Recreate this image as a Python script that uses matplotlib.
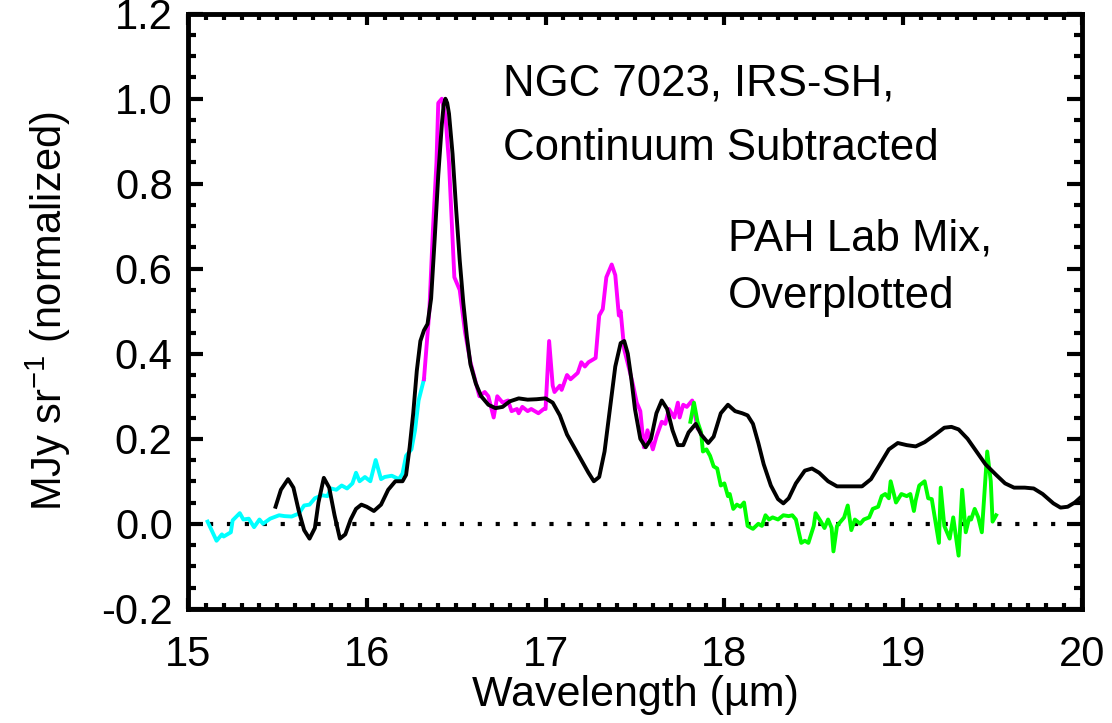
import numpy as np
import matplotlib
matplotlib.use("Agg")
from matplotlib import pyplot as plt
from matplotlib.ticker import MultipleLocator, FormatStrFormatter

plt.rcParams['font.family'] = ['Liberation Sans', 'DejaVu Sans']
plt.rcParams['mathtext.default'] = 'regular'

# cyan segment (short wavelength module piece)
cyan_x = [15.11, 15.16, 15.19, 15.20, 15.24, 15.25, 15.29, 15.31, 15.34, 15.37,
          15.40, 15.42, 15.46, 15.51, 15.54, 15.58, 15.62, 15.65, 15.68, 15.71,
          15.75, 15.78, 15.80, 15.83, 15.86, 15.89, 15.92, 15.94, 15.96, 15.99,
          16.02, 16.05, 16.08, 16.10, 16.14, 16.18, 16.20, 16.22, 16.25, 16.27,
          16.29, 16.32]
cyan_y = [0.005, -0.04, -0.025, -0.03, -0.02, 0.008, 0.025, 0.01, 0.012, -0.008,
          0.01, 0.0, 0.012, 0.02, 0.018, 0.017, 0.024, 0.043, 0.045, 0.06,
          0.067, 0.065, 0.083, 0.08, 0.09, 0.083, 0.095, 0.12, 0.10, 0.11,
          0.10, 0.15, 0.105, 0.11, 0.113, 0.105, 0.118, 0.16, 0.175, 0.22,
          0.29, 0.34]

# magenta segment
mag_x = [16.32, 16.35, 16.37, 16.39, 16.40, 16.42, 16.44, 16.46, 16.49, 16.51,
         16.52, 16.55, 16.58, 16.63, 16.66, 16.68, 16.71, 16.73, 16.76, 16.79,
         16.81, 16.84, 16.85, 16.87, 16.90, 16.92, 16.96, 16.99, 17.00, 17.02,
         17.04, 17.05, 17.08, 17.09, 17.12, 17.14, 17.18, 17.20, 17.22, 17.24,
         17.28, 17.30, 17.32, 17.34, 17.37, 17.39, 17.41, 17.42, 17.44, 17.47,
         17.49, 17.51, 17.53, 17.55, 17.57, 17.60, 17.62, 17.65, 17.67, 17.69,
         17.72, 17.74, 17.75, 17.77, 17.79, 17.82, 17.85]
mag_y = [0.34, 0.50, 0.69, 0.85, 0.99, 1.0, 0.96, 0.85, 0.58, 0.56,
         0.55, 0.45, 0.38, 0.30, 0.31, 0.30, 0.25, 0.30, 0.285, 0.29,
         0.265, 0.27, 0.26, 0.275, 0.265, 0.27, 0.26, 0.27, 0.27, 0.43,
         0.325, 0.31, 0.325, 0.315, 0.35, 0.34, 0.355, 0.38, 0.37, 0.38,
         0.39, 0.49, 0.505, 0.58, 0.61, 0.585, 0.49, 0.50, 0.41, 0.36,
         0.325, 0.285, 0.265, 0.18, 0.22, 0.175, 0.205, 0.24, 0.235, 0.27,
         0.25, 0.285, 0.25, 0.28, 0.275, 0.29, 0.225]

# green segment
grn_x = [17.81, 17.83, 17.85, 17.87, 17.88, 17.90, 17.92, 17.94, 17.96, 17.98,
         18.00, 18.02, 18.03, 18.05, 18.07, 18.09, 18.11, 18.13, 18.16, 18.19,
         18.21, 18.23, 18.25, 18.27, 18.30, 18.33, 18.36, 18.38, 18.40, 18.43,
         18.45, 18.47, 18.50, 18.51, 18.54, 18.56, 18.58, 18.60, 18.61, 18.63,
         18.65, 18.67, 18.69, 18.71, 18.73, 18.76, 18.78, 18.81, 18.83, 18.86,
         18.88, 18.90, 18.92, 18.93, 18.96, 18.99, 19.02, 19.04, 19.06, 19.07,
         19.09, 19.12, 19.14, 19.16, 19.20, 19.21, 19.23, 19.26, 19.28, 19.31,
         19.33, 19.35, 19.37, 19.38, 19.40, 19.42, 19.44, 19.47, 19.49, 19.50,
         19.52]
grn_y = [0.24, 0.285, 0.24, 0.215, 0.17, 0.175, 0.16, 0.135, 0.13, 0.09,
         0.095, 0.065, 0.07, 0.035, 0.045, 0.04, 0.05, -0.005, -0.012, 0.0,
         -0.005, 0.02, 0.01, 0.015, 0.01, 0.02, 0.018, 0.02, 0.01, -0.045,
         -0.04, -0.045, -0.005, 0.025, 0.005, -0.01, 0.01, -0.01, -0.065, -0.005,
         0.005, 0.015, 0.043, -0.015, 0.01, 0.0, 0.01, 0.015, 0.035, 0.04,
         0.065, 0.07, 0.06, 0.10, 0.05, 0.07, 0.065, 0.07, 0.03, 0.055,
         0.09, 0.10, 0.06, 0.058, -0.045, 0.085, -0.005, -0.035, 0.015, -0.075,
         0.08, -0.02, 0.015, 0.01, 0.035, 0.015, -0.02, 0.17, 0.10, 0.005,
         0.02]

# PAH lab mix (black)
lab_x = [15.49, 15.52, 15.56, 15.59, 15.62, 15.65, 15.68, 15.71, 15.73, 15.76,
         15.79, 15.82, 15.85, 15.88, 15.91, 15.94, 15.97, 16.00, 16.04, 16.08,
         16.12, 16.16, 16.20, 16.22, 16.24, 16.26, 16.28, 16.30, 16.32, 16.34,
         16.36, 16.38, 16.40, 16.42, 16.43, 16.44, 16.45, 16.46, 16.48, 16.50,
         16.52, 16.54, 16.56, 16.58, 16.61, 16.64, 16.68, 16.72, 16.76, 16.80,
         16.85, 16.90, 16.95, 17.00, 17.04, 17.08, 17.12, 17.16, 17.20, 17.24,
         17.27, 17.30, 17.33, 17.36, 17.39, 17.42, 17.44, 17.46, 17.48, 17.50,
         17.53, 17.56, 17.59, 17.62, 17.65, 17.68, 17.71, 17.74, 17.77, 17.80,
         17.84, 17.87, 17.91, 17.94, 17.98, 18.02, 18.06, 18.10, 18.13, 18.16,
         18.19, 18.22, 18.26, 18.30, 18.33, 18.36, 18.40, 18.45, 18.49, 18.53,
         18.58, 18.63, 18.70, 18.77, 18.82, 18.87, 18.92, 18.97, 19.02, 19.07,
         19.12, 19.18, 19.23, 19.27, 19.31, 19.36, 19.41, 19.46, 19.52, 19.57,
         19.62, 19.68, 19.73, 19.78, 19.84, 19.88, 19.92, 19.96, 20.00]
lab_y = [0.04, 0.08, 0.105, 0.085, 0.03, -0.015, -0.035, -0.01, 0.05, 0.108,
         0.085, 0.02, -0.035, -0.025, 0.01, 0.035, 0.045, 0.04, 0.03, 0.045,
         0.08, 0.10, 0.10, 0.115, 0.18, 0.26, 0.36, 0.43, 0.455, 0.47,
         0.53, 0.67, 0.82, 0.94, 0.985, 1.0, 0.99, 0.965, 0.87, 0.74,
         0.62, 0.52, 0.44, 0.375, 0.33, 0.30, 0.28, 0.272, 0.275, 0.288,
         0.295, 0.292, 0.293, 0.295, 0.285, 0.255, 0.21, 0.18, 0.15, 0.12,
         0.10, 0.11, 0.17, 0.27, 0.37, 0.425, 0.43, 0.40, 0.34, 0.27,
         0.20, 0.18, 0.20, 0.26, 0.29, 0.27, 0.22, 0.185, 0.185, 0.215,
         0.235, 0.21, 0.19, 0.205, 0.26, 0.28, 0.265, 0.26, 0.255, 0.235,
         0.19, 0.14, 0.09, 0.058, 0.048, 0.06, 0.095, 0.125, 0.13, 0.12,
         0.10, 0.088, 0.088, 0.088, 0.105, 0.14, 0.175, 0.19, 0.185, 0.182,
         0.192, 0.21, 0.226, 0.228, 0.222, 0.20, 0.17, 0.14, 0.115, 0.095,
         0.085, 0.085, 0.083, 0.07, 0.048, 0.038, 0.04, 0.05, 0.065]

zero_x = [15.12, 19.93]

fig = plt.figure(figsize=(11.12, 7.23), dpi=100)
ax = fig.add_axes([0.169, 0.158, 0.804, 0.823])

ax.plot(zero_x, [0, 0], color='black', lw=3, linestyle=(0, (1, 3.3)))
ax.plot(cyan_x, cyan_y, color='#00ffff', lw=2.8)
ax.plot(mag_x, mag_y, color='#ff00ff', lw=2.8)
ax.plot(grn_x, grn_y, color='#00ff00', lw=2.8)
ax.plot(lab_x, lab_y, color='black', lw=2.8)

ax.set_xlim(15, 20)
ax.set_ylim(-0.2, 1.2)
ax.xaxis.set_major_locator(MultipleLocator(1))
ax.xaxis.set_minor_locator(MultipleLocator(0.1))
ax.yaxis.set_major_locator(MultipleLocator(0.2))
ax.yaxis.set_minor_locator(MultipleLocator(0.05))
ax.yaxis.set_major_formatter(FormatStrFormatter('%.1f'))

for s in ax.spines.values():
    s.set_linewidth(3.5)
ax.tick_params(which='both', direction='in', top=True, right=True, width=3,
               labelsize=30)
ax.tick_params(axis='x', which='major', length=8, pad=19)
ax.tick_params(axis='x', which='minor', length=4)
ax.tick_params(axis='y', which='major', length=11, pad=11)
ax.tick_params(axis='y', which='minor', length=5.5)

ax.set_xlabel('Wavelength (µm)', fontsize=31, labelpad=0)
ax.set_ylabel('MJy sr$^{-1}$ (normalized)', fontsize=30, labelpad=20)

ax.text(16.76, 1.035, 'NGC 7023, IRS-SH,', fontsize=31.5, va='center')
ax.text(16.76, 0.882, 'Continuum Subtracted', fontsize=31.5, va='center')
ax.text(18.02, 0.671, 'PAH Lab Mix,', fontsize=31.5, va='center')
ax.text(18.02, 0.534, 'Overplotted', fontsize=31.5, va='center')

fig.savefig('out.png', dpi=100)
